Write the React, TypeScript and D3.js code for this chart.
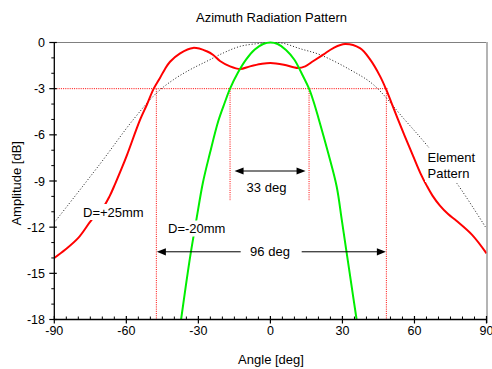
import React from "react";
import * as d3 from "d3";

// Red curve: D=+25mm
const redAngles = [-90, -85.5, -80, -74.3, -70, -67, -64.7, -62, -59.7, -54.3, -51.5, -48.6, -46, -44, -41.8, -37.6, -32.2, -26.5, -23.8, -21, -16.8, -12.6, -8.5, -4, 0, 5.6, 11.4, 14.5, 17.9, 22, 26.2, 31.1, 37.3, 41.5, 45.7, 48.2, 50.5, 53, 56, 59.5, 62.5, 65.1, 67.5, 70.6, 74, 77.6, 84, 90];
const redDb = [-14.0, -13.47, -12.7, -11.5, -10.8, -10.0, -9.2, -8.2, -7.3, -5.03, -4.06, -3.0, -2.3, -1.75, -1.25, -0.7, -0.35, -0.57, -0.81, -1.2, -1.55, -1.72, -1.55, -1.4, -1.33, -1.44, -1.66, -1.55, -1.2, -0.79, -0.36, -0.1, -0.37, -1.1, -2.2, -3.05, -3.95, -4.95, -6.1, -7.4, -8.5, -9.3, -9.95, -10.6, -11.15, -11.6, -12.5, -13.7];

// Green curve: D=-20mm
const greenAngles = [-37.2, -35.3, -33.3, -30.7, -28.1, -25.2, -21.7, -19, -16.8, -13.5, -10, -6.5, -3, 0, 3, 6.5, 10, 13, 16.1, 18, 20, 24.1, 27.6, 29.7, 31.5, 33.7, 35.9];
const greenDb = [-18, -15.9, -13.8, -11.4, -9.1, -7.2, -5.1, -3.9, -3.0, -1.95, -1.08, -0.46, -0.1, 0, -0.1, -0.48, -1.12, -2.0, -3.0, -3.85, -4.9, -7.2, -9.36, -11.5, -13.4, -15.7, -18];

// Element pattern (dotted)
const elemAngles = [-90, -71, -57.2, -47.4, -40.4, -33.5, -26.5, -19.6, -12.6, -5.8, 0, 5.3, 12.3, 20.6, 33.2, 42.9, 56, 65.1, 77.6, 90];
const elemDb = [-11.7, -7.9, -5.03, -3.28, -2.42, -1.77, -1.22, -0.68, -0.25, -0.08, 0, -0.05, -0.4, -0.79, -1.77, -2.74, -5.03, -6.66, -9.14, -12.1];

// Axis ticks
const xTicks = [-90, -60, -30, 0, 30, 60, 90];
const yTicks = [0, -3, -6, -9, -12, -15, -18];
const xMinor = d3.range(-90, 91, 5);
const yMinor = d3.range(-18, 1, 1);

// Annotations (beamwidth markers)
const halfPowerDb = -3;
const redHalfPower = [-47.5, 48.3];
const greenHalfPower = [-16.8, 16.1];
const greenMarkerBottomDb = -10.3;
const arrow33Db = -8.35;
const arrow96Db = -13.6;

const FONT = "'Liberation Sans', Arial, Helvetica, sans-serif";

export default function App() {
  const W = 492, H = 369;
  const x = d3.scaleLinear().domain([-90, 90]).range([54.3, 486.5]);
  const y = d3.scaleLinear().domain([-18, 0]).range([319.5, 42.5]);

  const line = d3
    .line<[number, number]>()
    .x((d) => x(d[0]))
    .y((d) => y(d[1]))
    .curve(d3.curveCatmullRom.alpha(0.5));

  const zip = (a: number[], b: number[]) => a.map((v, i) => [v, b[i]] as [number, number]);

  const redPath = line(zip(redAngles, redDb)) || "";
  const greenPath = line(zip(greenAngles, greenDb)) || "";
  const elemPath = line(zip(elemAngles, elemDb)) || "";

  const x0 = x(-90), x1 = x(90), yTop = y(0), yBot = y(-18);

  const arrowHead = (tipX: number, tipY: number, dir: number) => {
    const L = 9, hw = 3.6;
    return `M${tipX},${tipY}L${tipX - dir * L},${tipY - hw}L${tipX - dir * L},${tipY + hw}Z`;
  };

  const a33y = y(arrow33Db);
  const a33L = x(greenHalfPower[0]) + 4.5;
  const a33R = x(greenHalfPower[1]) - 3.5;
  const a96y = y(arrow96Db);
  const a96L = x(redHalfPower[0]) + 0.5;
  const a96R = x(redHalfPower[1]) - 0.5;

  return (
    <svg width={W} height={H} style={{ position: "absolute", left: 0, top: 0, background: "#fff" }} fontFamily={FONT}>
      <defs>
        <clipPath id="plotClip">
          <rect x={x0} y={yTop - 2} width={x1 - x0} height={yBot - yTop + 2} />
        </clipPath>
      </defs>

      {/* title */}
      <text x={271.5} y={21.5} fontSize={13} textAnchor="middle" fill="#000">Azimuth Radiation Pattern</text>

      {/* frame */}
      <line x1={x0} x2={x1 + 1} y1={yTop} y2={yTop} stroke="#808080" strokeWidth={1} />
      <line x1={x1 + 0.5} x2={x1 + 0.5} y1={yTop - 0.5} y2={yBot + 3.5} stroke="#b4b4b4" strokeWidth={2} />

      {/* -3 dB reference and beamwidth markers */}
      <g stroke="#ff0000" strokeWidth={1} strokeDasharray="1,1.2" fill="none">
        <line x1={x0} x2={x(redHalfPower[1]) + 2} y1={y(halfPowerDb)} y2={y(halfPowerDb)} />
        {redHalfPower.map((a, i) => (
          <line key={"r" + i} x1={x(a)} x2={x(a)} y1={y(halfPowerDb)} y2={yBot} />
        ))}
        {greenHalfPower.map((a, i) => (
          <line key={"g" + i} x1={x(a)} x2={x(a)} y1={y(halfPowerDb)} y2={y(greenMarkerBottomDb)} />
        ))}
      </g>

      {/* curves */}
      <g clipPath="url(#plotClip)" fill="none">
        <path d={elemPath} stroke="#000" strokeWidth={0.9} strokeDasharray="1,2" />
        <path d={redPath} stroke="#ff0000" strokeWidth={2} strokeLinejoin="round" />
        <path d={greenPath} stroke="#00ee00" strokeWidth={2} strokeLinejoin="round" />
      </g>

      {/* 33 deg arrow */}
      <line x1={a33L + 5} x2={a33R - 5} y1={a33y} y2={a33y} stroke="#000" strokeWidth={1.2} />
      <path d={arrowHead(a33L, a33y, -1)} fill="#000" />
      <path d={arrowHead(a33R, a33y, 1)} fill="#000" />
      <text x={266.5} y={191.5} fontSize={13} textAnchor="middle" fill="#000">33 deg</text>

      {/* 96 deg arrow */}
      <line x1={a96L + 5} x2={240.7} y1={a96y} y2={a96y} stroke="#000" strokeWidth={1} />
      <line x1={301.7} x2={a96R - 5} y1={a96y} y2={a96y} stroke="#000" strokeWidth={1} />
      <path d={arrowHead(a96L, a96y, -1)} fill="#000" />
      <path d={arrowHead(a96R, a96y, 1)} fill="#000" />
      <text x={270} y={255.5} fontSize={13} textAnchor="middle" fill="#000">96 deg</text>

      {/* curve labels with white boxes */}
      <rect x={81} y={204} width={67} height={16} fill="#fff" />
      <text x={83} y={217.3} fontSize={13} fill="#000">D=+25mm</text>
      <rect x={166} y={220.5} width={62} height={16} fill="#fff" />
      <text x={168} y={233.3} fontSize={13} fill="#000">D=-20mm</text>
      <rect x={425} y={148} width={52} height={34} fill="#fff" />
      <text x={427.5} y={161.7} fontSize={13} fill="#000">Element</text>
      <text x={427.5} y={178} fontSize={13} fill="#000">Pattern</text>

      {/* y axis */}
      <line x1={x0} x2={x0} y1={yTop - 0.5} y2={yBot + 0.5} stroke="#000" strokeWidth={1.3} />
      {yMinor.filter((v) => v % 3 !== 0).map((v) => (
        <line key={"ym" + v} x1={x0 - 3} x2={x0} y1={y(v)} y2={y(v)} stroke="#000" strokeWidth={1} />
      ))}
      {yTicks.map((v) => (
        <g key={"y" + v}>
          <line x1={x0 - 5} x2={x0 + 2.5} y1={y(v)} y2={y(v)} stroke="#000" strokeWidth={1.2} />
          <text x={45} y={y(v) + 4.5} fontSize={12.5} textAnchor="end" fill="#000">{v}</text>
        </g>
      ))}

      {/* x axis */}
      <line x1={x0 - 0.5} x2={x1} y1={yBot} y2={yBot} stroke="#000" strokeWidth={1.3} />
      {xMinor.filter((v) => v % 30 !== 0).map((v) => (
        <line key={"xm" + v} x1={x(v)} x2={x(v)} y1={yBot - 3} y2={yBot} stroke="#000" strokeWidth={1} />
      ))}
      {xTicks.map((v) => (
        <g key={"x" + v}>
          <line x1={x(v)} x2={x(v)} y1={yBot - 3.5} y2={yBot + 4} stroke="#000" strokeWidth={1.2} />
          <text x={x(v)} y={335} fontSize={12.5} textAnchor="middle" fill="#000">{v}</text>
        </g>
      ))}

      {/* axis titles */}
      <text x={271} y={364} fontSize={13} textAnchor="middle" fill="#000">Angle [deg]</text>
      <text transform="translate(21,183.3) rotate(-90)" fontSize={13} textAnchor="middle" fill="#000">Amplitude [dB]</text>
    </svg>
  );
}
